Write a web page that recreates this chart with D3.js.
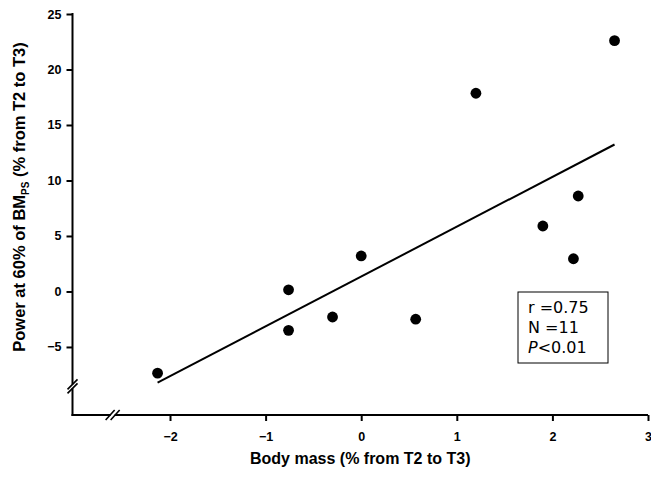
<!DOCTYPE html>
<html>
<head>
<meta charset="utf-8">
<script src="https://cdn.jsdelivr.net/npm/d3@7"></script>
<style>
body { margin: 0; background: #fff; }
svg { display: block; }
</style>
</head>
<body>
<script>
// change in body mass vs change in power, T2 -> T3
var bodyMass = [-2.13, -0.76, -0.76, -0.30, 0.00, 0.57, 1.20, 1.90, 2.22, 2.27, 2.65];
var power    = [-7.36, 0.15, -3.50, -2.30, 3.20, -2.50, 17.86, 5.90, 2.95, 8.60, 22.60];
var xTicks = [-2, -1, 0, 1, 2, 3];
var yTicks = [-5, 0, 5, 10, 15, 20, 25];
var statLines = ["r =0.75", "N =11", "<0.01"];

var width = 651,
    height = 477;

var svg = d3.select("body").append("svg")
    .attr("width", width)
    .attr("height", height);

var x = d3.scaleLinear().domain([-3.02, 3]).range([72.5, 648]);
var y = d3.scaleLinear().domain([-11.13, 25]).range([415, 14]);

var points = bodyMass.map(function (d, i) {
    return { x: d, y: power[i] };
});

// least squares fit
var mx = d3.mean(points, function (d) { return d.x; }),
    my = d3.mean(points, function (d) { return d.y; });
var sxy = d3.sum(points, function (d) { return (d.x - mx) * (d.y - my); }),
    sxx = d3.sum(points, function (d) { return (d.x - mx) * (d.x - mx); });
var slope = sxy / sxx,
    intercept = my - slope * mx;
var ext = d3.extent(bodyMass);

var tickFont = "'Liberation Sans', Arial, sans-serif";
var fmt = d3.format("d");

// axes
var xAxis = svg.append("g")
    .attr("transform", "translate(0," + y.range()[0] + ")")
    .call(d3.axisBottom(x).tickValues(xTicks).tickFormat(fmt).tickSize(6).tickPadding(11));
var yAxis = svg.append("g")
    .attr("transform", "translate(" + x.range()[0] + ",0)")
    .call(d3.axisLeft(y).tickValues(yTicks).tickFormat(fmt).tickSize(6).tickPadding(5));

[xAxis, yAxis].forEach(function (g) {
    g.select(".domain").remove();
    g.selectAll(".tick line").attr("stroke", "#000").attr("stroke-width", 2);
    g.selectAll(".tick text")
        .attr("fill", "#000")
        .style("font-family", tickFont)
        .style("font-size", "12.5px")
        .style("font-weight", "bold");
});

svg.append("line")
    .attr("x1", x.range()[0]).attr("x2", x.range()[0])
    .attr("y1", y.range()[1] - 1).attr("y2", y.range()[0] + 1)
    .attr("stroke", "#000").attr("stroke-width", 2);
svg.append("line")
    .attr("x1", x.range()[0] - 1).attr("x2", x.range()[1])
    .attr("y1", y.range()[0]).attr("y2", y.range()[0])
    .attr("stroke", "#000").attr("stroke-width", 2);

// axis breaks
var yb = y(-8.55), xb = x(-2.6);
svg.append("rect").attr("x", x.range()[0] - 2).attr("y", yb - 2)
    .attr("width", 4).attr("height", 4).attr("fill", "#fff");
[-2, 2].forEach(function (o) {
    svg.append("line")
        .attr("x1", x.range()[0] - 5).attr("y1", yb + o + 5)
        .attr("x2", x.range()[0] + 5).attr("y2", yb + o - 5)
        .attr("stroke", "#000").attr("stroke-width", 1.6);
});
svg.append("rect").attr("x", xb - 2).attr("y", y.range()[0] - 2)
    .attr("width", 4).attr("height", 4).attr("fill", "#fff");
[-2.5, 2.5].forEach(function (o) {
    svg.append("line")
        .attr("x1", xb + o - 4.5).attr("y1", y.range()[0] + 5)
        .attr("x2", xb + o + 4.5).attr("y2", y.range()[0] - 5)
        .attr("stroke", "#000").attr("stroke-width", 1.6);
});

// regression line
svg.append("line")
    .attr("x1", x(ext[0])).attr("y1", y(intercept + slope * ext[0]))
    .attr("x2", x(ext[1])).attr("y2", y(intercept + slope * ext[1]))
    .attr("stroke", "#000").attr("stroke-width", 2);

// points
svg.selectAll("circle.pt")
    .data(points)
    .enter().append("circle")
    .attr("class", "pt")
    .attr("cx", function (d) { return x(d.x); })
    .attr("cy", function (d) { return y(d.y); })
    .attr("r", 5.4)
    .attr("fill", "#000");

// axis titles
svg.append("text")
    .attr("x", (x.range()[0] + x.range()[1]) / 2)
    .attr("y", 464)
    .attr("text-anchor", "middle")
    .style("font-family", tickFont)
    .style("font-size", "16px")
    .style("font-weight", "bold")
    .text("Body mass (% from T2 to T3)");

var yl = svg.append("text")
    .attr("transform", "translate(25,197) rotate(-90)")
    .attr("text-anchor", "middle")
    .style("font-family", tickFont)
    .style("font-size", "16.5px")
    .style("font-weight", "bold");
yl.append("tspan").text("Power at 60% of BM");
yl.append("tspan").attr("dy", 3.5).style("font-size", "10px").text("PS");
yl.append("tspan").attr("dy", -3.5).text(" (% from T2 to T3)");

// stats box
var box = svg.append("g").attr("transform", "translate(518,292)");
box.append("rect")
    .attr("width", 90).attr("height", 71)
    .attr("fill", "#fff").attr("stroke", "#000").attr("stroke-width", 1);
var st = box.selectAll("text.stat")
    .data(statLines)
    .enter().append("text")
    .attr("class", "stat")
    .attr("x", 10)
    .attr("y", function (d, i) { return 21 + i * 20; })
    .style("font-family", "'DejaVu Sans', sans-serif")
    .style("font-size", "16px");
st.each(function (d, i) {
    var t = d3.select(this);
    if (i === 2) t.append("tspan").style("font-style", "italic").text("P");
    t.append("tspan").text(d);
});
</script>
</body>
</html>
